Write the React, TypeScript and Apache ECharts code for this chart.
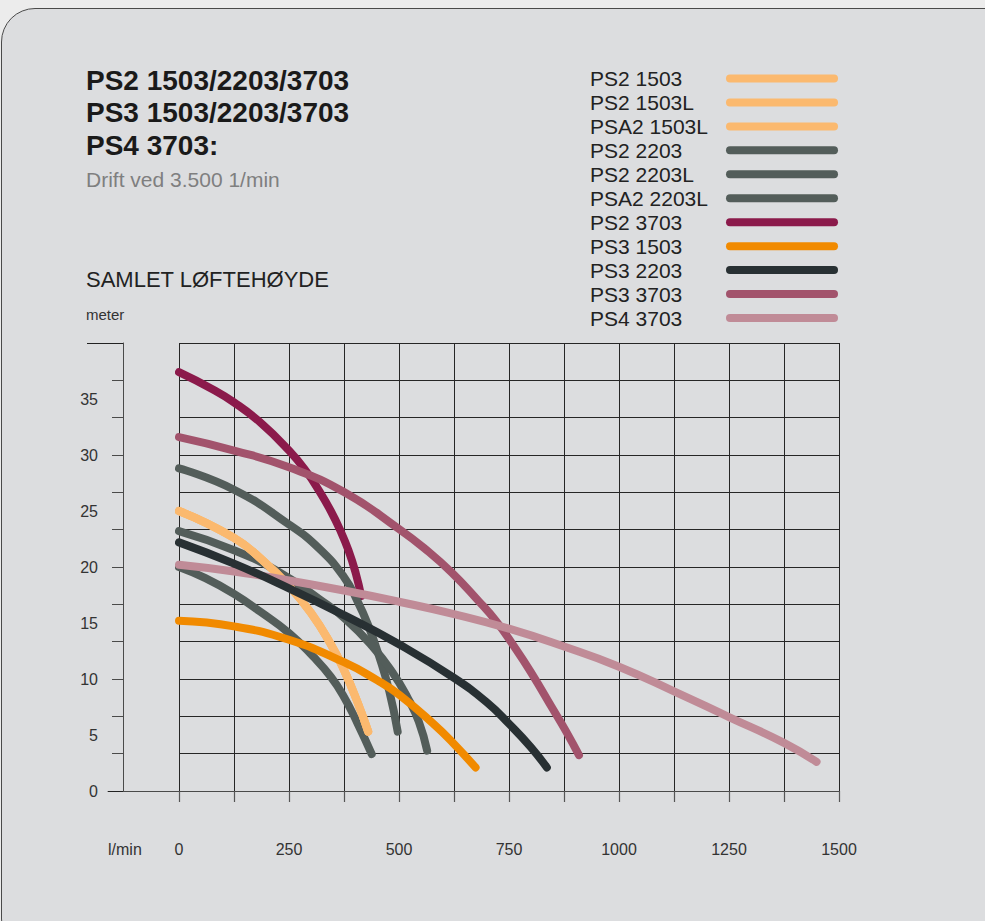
import React, { useEffect, useRef } from 'react';
import * as echarts from 'echarts';

const FONT = '"Liberation Sans", Arial, Helvetica, sans-serif';

// Legend order
const legendNames = [
  'PS2 1503', 'PS2 1503L', 'PSA2 1503L',
  'PS2 2203', 'PS2 2203L', 'PSA2 2203L',
  'PS2 3703', 'PS3 1503', 'PS3 2203', 'PS3 3703', 'PS4 3703',
];

// Curves: [flow l/min, head m]
const ps2_1503 = [[0, 25.0], [125, 22.6], [190, 20.6], [250, 18.3], [300, 15.9], [345, 13.1], [375, 10.8], [405, 8.0], [430, 5.3]];
const ps2_1503L = [[0, 25.0], [125, 22.6], [190, 20.6], [250, 18.3], [300, 15.9], [345, 13.1], [375, 10.8], [405, 8.0], [430, 5.3]];
const psa2_1503L = [[0, 25.0], [125, 22.6], [190, 20.6], [250, 18.3], [300, 15.9], [345, 13.1], [375, 10.8], [405, 8.0], [430, 5.3]];
const ps2_2203 = [[0, 20.0], [60, 19.0], [125, 17.6], [185, 16.0], [250, 14.1], [305, 12.0], [345, 10.2], [375, 8.4], [405, 6.1], [438, 3.3]];
const ps2_2203L = [[0, 23.2], [125, 21.5], [225, 19.6], [320, 17.1], [380, 15.3], [440, 12.9], [485, 10.6], [520, 8.3], [545, 6.2], [564, 3.6]];
const psa2_2203L = [[0, 28.8], [125, 26.9], [250, 23.8], [320, 21.6], [375, 19.1], [405, 17.0], [430, 14.8], [455, 12.0], [478, 8.9], [497, 5.3]];
const ps2_3703 = [[0, 37.4], [75, 35.9], [125, 34.7], [185, 32.9], [250, 30.4], [290, 28.5], [320, 26.7], [345, 25.0], [365, 23.4], [385, 21.5], [402, 19.4], [414, 17.4]];
const ps3_1503 = [[0, 15.2], [125, 14.7], [250, 13.5], [375, 11.5], [450, 9.9], [500, 8.6], [578, 6.0], [625, 4.2], [674, 2.1]];
const ps3_2203 = [[0, 22.2], [125, 20.3], [250, 18.1], [375, 15.7], [500, 13.1], [625, 10.1], [700, 7.9], [750, 6.0], [800, 3.9], [836, 2.1]];
const ps3_3703 = [[0, 31.6], [125, 30.4], [250, 28.9], [375, 26.7], [500, 23.4], [560, 21.6], [620, 19.5], [680, 17.0], [720, 15.2], [760, 13.0], [800, 10.6], [850, 7.3], [880, 5.3], [909, 3.2]];
const ps4_3703 = [[0, 20.2], [125, 19.6], [250, 18.8], [375, 17.9], [500, 16.9], [625, 15.8], [750, 14.5], [875, 12.9], [1000, 11.1], [1125, 8.9], [1250, 6.6], [1375, 4.3], [1449, 2.6]];

const xTicks = [0, 125, 250, 375, 500, 625, 750, 875, 1000, 1125, 1250, 1375, 1500];
const xLabels = [0, 250, 500, 750, 1000, 1250, 1500];
const yLabels = [0, 5, 10, 15, 20, 25, 30, 35];

const C_LIGHT = '#fbb96f';
const C_GRAY = '#535d5a';
const C_CRIMSON = '#8b1a4b';
const C_ORANGE = '#f18a00';
const C_BLACK = '#283033';
const C_MAUVE = '#a2536c';
const C_PINK = '#c08b97';

// draw order (bottom to top)
const seriesDefs: { name: string; data: number[][]; color: string }[] = [
  { name: 'PS2 3703', data: ps2_3703, color: C_CRIMSON },
  { name: 'PSA2 2203L', data: psa2_2203L, color: C_GRAY },
  { name: 'PS2 2203L', data: ps2_2203L, color: C_GRAY },
  { name: 'PS2 2203', data: ps2_2203, color: C_GRAY },
  { name: 'PSA2 1503L', data: psa2_1503L, color: C_LIGHT },
  { name: 'PS2 1503L', data: ps2_1503L, color: C_LIGHT },
  { name: 'PS2 1503', data: ps2_1503, color: C_LIGHT },
  { name: 'PS3 3703', data: ps3_3703, color: C_MAUVE },
  { name: 'PS4 3703', data: ps4_3703, color: C_PINK },
  { name: 'PS3 2203', data: ps3_2203, color: C_BLACK },
  { name: 'PS3 1503', data: ps3_1503, color: C_ORANGE },
];

const GRID_LINE = '#262626';
const AXIS_LINE = '#4a4a4a';

export default function App() {
  const ref = useRef<HTMLDivElement>(null);

  useEffect(() => {
    if (!ref.current) return;
    const chart = echarts.init(ref.current, undefined, { renderer: 'svg' });
    const option: any = {
      animation: false,
      backgroundColor: 'transparent',
      textStyle: { fontFamily: FONT },
      title: [
        {
          left: 86,
          top: 64,
          padding: 0,
          text: 'PS2 1503/2203/3703\nPS3 1503/2203/3703\nPS4 3703:',
          textStyle: { fontSize: 28, fontWeight: 'bold', lineHeight: 32.5, color: '#1a1a1a', fontFamily: FONT },
          subtext: 'Drift ved 3.500 1/min',
          subtextStyle: { fontSize: 21, color: '#7f7f7f', lineHeight: 22, fontFamily: FONT },
          itemGap: 7,
        },
        {
          left: 86,
          top: 266,
          padding: 0,
          text: 'SAMLET LØFTEHØYDE',
          textStyle: { fontSize: 22, fontWeight: 'normal', lineHeight: 26, color: '#222', fontFamily: FONT },
          subtext: 'meter',
          subtextStyle: { fontSize: 15, color: '#333', lineHeight: 16, fontFamily: FONT },
          itemGap: 14,
        },
      ],
      legend: {
        orient: 'vertical',
        left: 590,
        top: 68,
        padding: 0,
        itemGap: 2.95,
        itemWidth: 112,
        itemHeight: 8,
        align: 'right',
        selectedMode: false,
        icon: 'path://M4,0H108A4,4 0 0 1 108,8H4A4,4 0 0 1 4,0Z',
        itemStyle: { borderWidth: 0 },
        data: legendNames,
        formatter: (name: string) => `{n|${name}}`,
        textStyle: {
          fontFamily: FONT,
          rich: {
            n: { width: 131, align: 'left', fontSize: 21, color: '#222', fontFamily: FONT },
          },
        },
      },
      grid: [
        { left: 179, top: 343, width: 660, height: 448, containLabel: false },
        { left: 108, top: 343, width: 731, height: 448, containLabel: false },
      ],
      xAxis: [
        {
          type: 'value', gridIndex: 0, min: 0, max: 1500, interval: 125,
          axisLine: { show: false }, axisTick: { show: false }, axisLabel: { show: false },
          splitLine: { show: true, lineStyle: { color: GRID_LINE, width: 1 } },
        },
        {
          type: 'value', gridIndex: 1, min: -161.36, max: 1500, position: 'bottom', offset: 28,
          axisLine: { show: true, lineStyle: { color: AXIS_LINE, width: 1 } },
          axisTick: { show: true, customValues: xTicks, length: 11, lineStyle: { color: '#555', width: 1.2 } },
          axisLabel: {
            show: true, customValues: xLabels, margin: 22, fontSize: 16, color: '#333', fontFamily: FONT,
            formatter: (v: number) => String(v),
          },
          splitLine: { show: false },
        },
      ],
      yAxis: [
        {
          type: 'value', gridIndex: 0, min: 0, max: 40, interval: 40 / 12,
          axisLine: { show: false }, axisTick: { show: false }, axisLabel: { show: false },
          splitLine: { show: true, lineStyle: { color: GRID_LINE, width: 1 } },
        },
        {
          type: 'value', gridIndex: 0, min: 0, max: 40, interval: 40 / 12, position: 'left', offset: 56,
          axisLine: { show: true, lineStyle: { color: AXIS_LINE, width: 1 } },
          axisTick: { show: true, length: 11, lineStyle: { color: AXIS_LINE, width: 1 } },
          axisLabel: { show: false }, splitLine: { show: false },
        },
        {
          type: 'value', gridIndex: 0, min: 0, max: 40, interval: 5, position: 'left', offset: 56,
          axisLine: { show: false }, axisTick: { show: false },
          axisLabel: {
            show: true, customValues: yLabels, margin: 25, fontSize: 16, color: '#333', fontFamily: FONT,
            formatter: (v: number) => String(v),
          },
          splitLine: { show: false },
        },
        {
          type: 'value', gridIndex: 0, min: 0, max: 40, position: 'left', offset: 56,
          axisLine: { show: false },
          axisTick: { show: true, customValues: [40], length: 36, lineStyle: { color: '#222', width: 1 } },
          axisLabel: { show: false }, splitLine: { show: false },
        },
        {
          type: 'value', gridIndex: 0, min: 0, max: 40, position: 'left', offset: 56,
          axisLine: { show: false },
          axisTick: { show: true, customValues: [0], length: 15, lineStyle: { color: '#222', width: 1 } },
          axisLabel: { show: false }, splitLine: { show: false },
        },
        { type: 'value', gridIndex: 1, min: 0, max: 40, show: false },
      ],
      graphic: [
        {
          type: 'text', left: 108, top: 841,
          style: { text: 'l/min', fontSize: 16, fill: '#333', fontFamily: FONT },
        },
      ],
      series: seriesDefs.map((s) => ({
        name: s.name,
        type: 'line',
        xAxisIndex: 0,
        yAxisIndex: 0,
        data: s.data,
        smooth: 0.5,
        symbol: 'none',
        showSymbol: false,
        color: s.color,
        itemStyle: { color: s.color },
        lineStyle: { color: s.color, width: 8, cap: 'round', join: 'round' },
        emphasis: { disabled: true },
        silent: true,
      })),
    };
    chart.setOption(option);
    return () => chart.dispose();
  }, []);

  return (
    <div style={{ position: 'fixed', left: 0, top: 0, width: 985, height: 921, overflow: 'hidden', background: '#ececec' }}>
      <div
        style={{
          position: 'absolute', left: 1, top: 8, width: 1030, height: 945,
          border: '1.5px solid #4a4a4a', borderRadius: 34, background: '#dcdddf', boxSizing: 'border-box',
        }}
      />
      <div ref={ref} style={{ position: 'absolute', left: 0, top: 0, width: 985, height: 921 }} />
    </div>
  );
}
